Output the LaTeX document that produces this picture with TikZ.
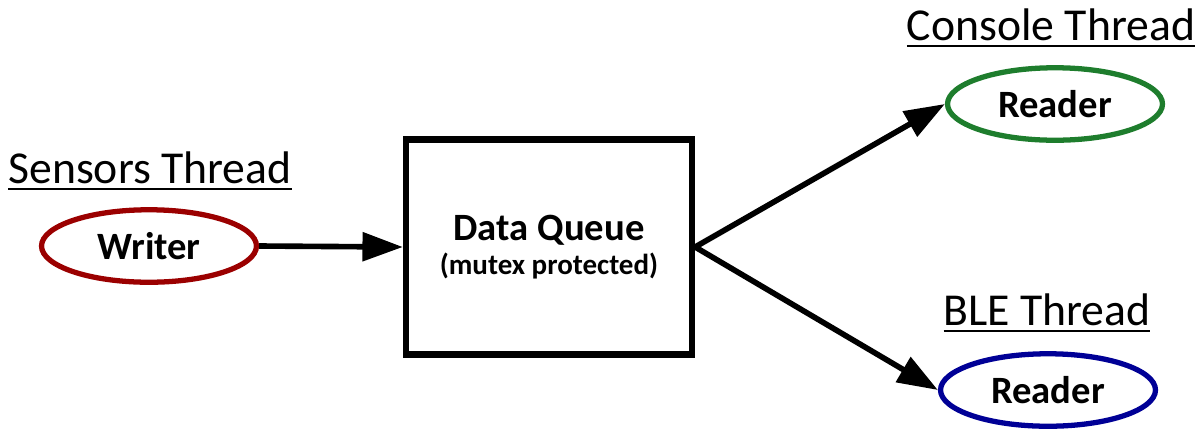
\documentclass[tikz,border=0pt]{standalone}
\usepackage{fontspec}
\setmainfont{Carlito}
\usetikzlibrary{positioning,shapes.geometric,arrows.meta}
\definecolor{writerred}{RGB}{155,0,0}
\definecolor{consolegreen}{RGB}{30,125,45}
\definecolor{bleblue}{RGB}{0,0,150}
% underline with a heavier rule than \underline gives
\newcommand{\thickul}[1]{\setbox0\hbox{#1}\rlap{\rule[-4pt]{\wd0}{1.2pt}}\box0}

\begin{document}
\begin{tikzpicture}[x=0.02cm,y=-0.02cm,
        worker/.style={ellipse,draw,line width=3pt,minimum width=4.3cm,
            minimum height=1.45cm,inner sep=0pt,
            font=\fontsize{22}{26}\selectfont\bfseries},
        queuebox/.style={rectangle,draw,line width=3.6pt,minimum width=5.72cm,
            minimum height=4.3cm,align=center,
            font=\fontsize{22}{19}\selectfont\bfseries},
        threadname/.style={anchor=base,inner sep=0pt,
            font=\fontsize{26}{30}\selectfont},
        flow/.style={-{Triangle[length=23pt,width=16pt]},line width=3.2pt}]

                \useasboundingbox (0,0) rectangle (1202,430);

                % writer side
                \node[worker,draw=writerred] (writer) at (149,246) {Writer};
                \node[threadname] (sensors) at (150,183) {\thickul{Sensors Thread}};

                % shared queue
                \node[queuebox] (queue) at (549,247)
                {Data Queue\\{\fontsize{16.5}{19}\selectfont (mutex protected)}};

                % readers
                \node[worker,draw=consolegreen] (console) at (1055,104) {Reader};
                \node[threadname] (consolelbl) at (1051,40) {\thickul{Console Thread}};
                \node[worker,draw=bleblue] (ble) at (1048,390) {Reader};
                \node[threadname] (blelbl) at (1047,325) {\thickul{BLE Thread}};

                % data flow
                \draw[flow] (writer.east) -- (queue.west);
                \draw[flow] (queue.east) -- (console.west);
                \draw[flow] (queue.east) -- (ble.west);

\end{tikzpicture}
\end{document}
